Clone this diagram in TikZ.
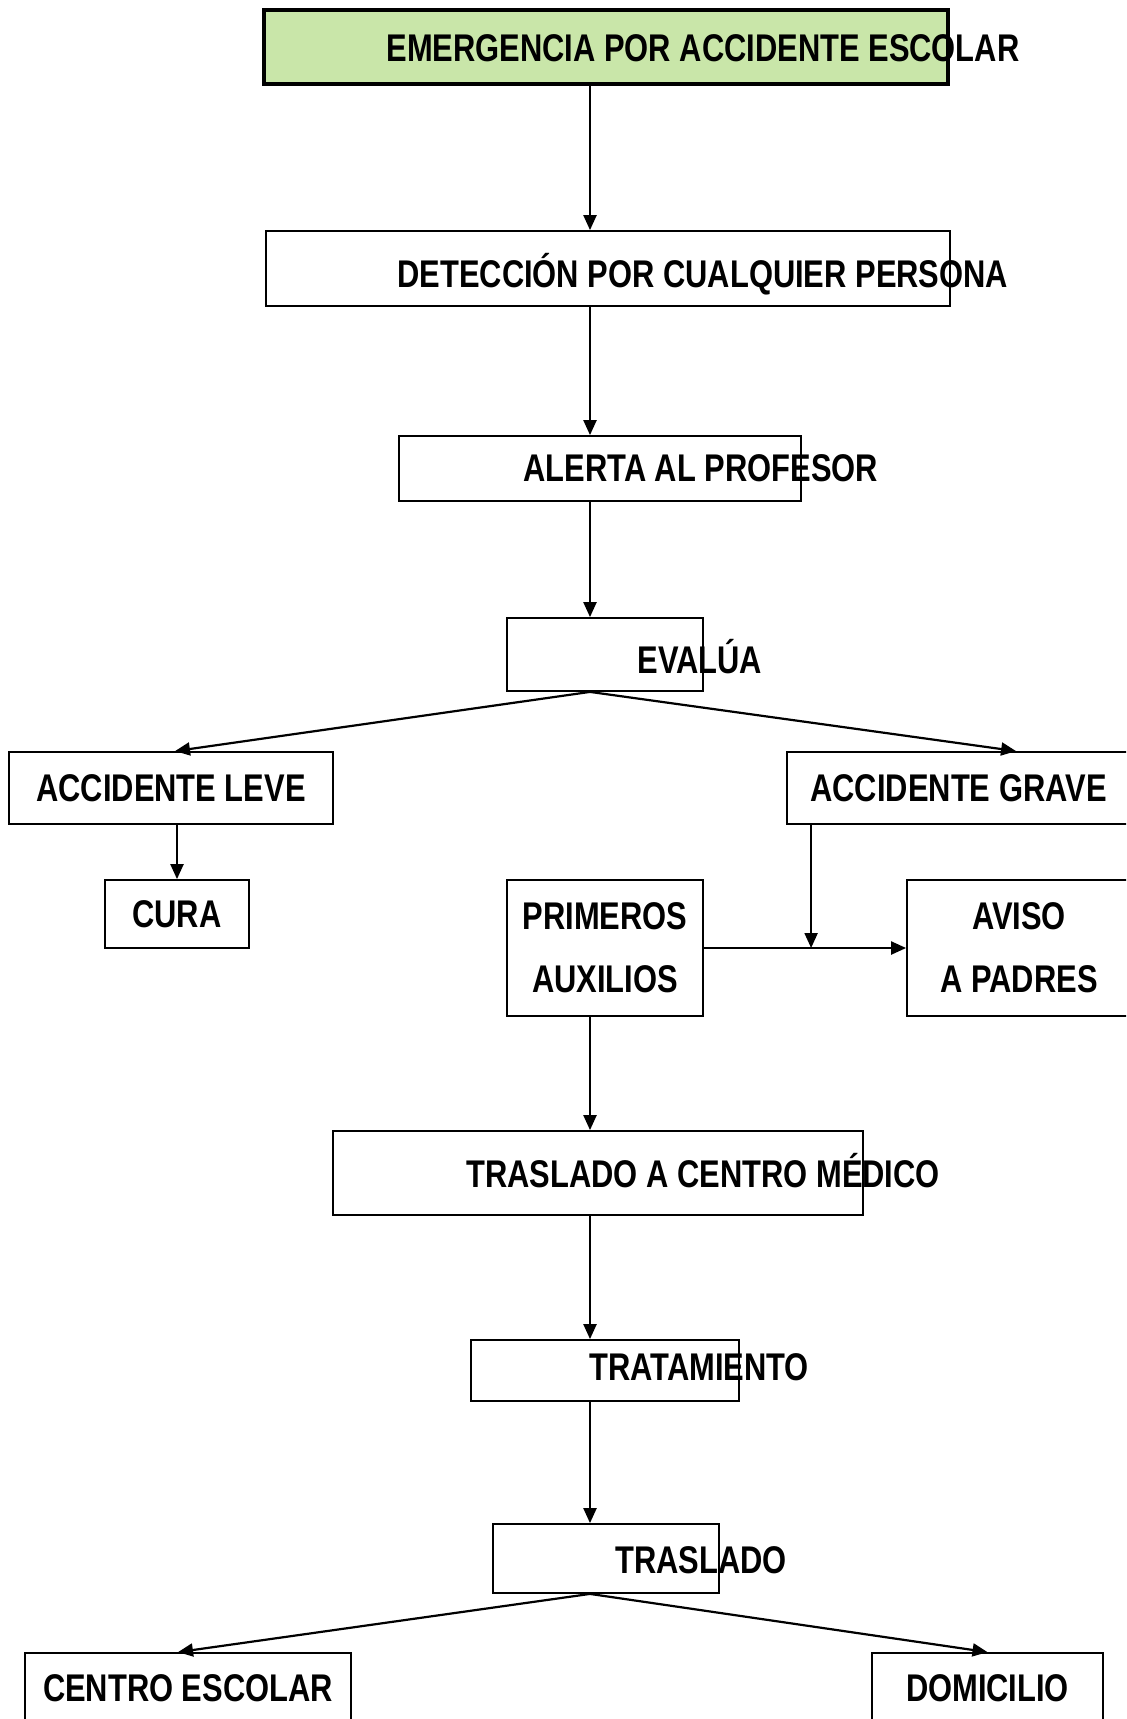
\documentclass[tikz,border=0pt]{standalone}
\usepackage{fontspec}
\setmainfont{Liberation Sans}[FakeStretch=0.8]
\usepackage{xcolor}
\usepackage{tikz}
\usetikzlibrary{positioning, arrows.meta, calc}
\definecolor{emergfill}{HTML}{C9E6A9}

\begin{document}
\begin{tikzpicture}[x=0.5pt, y=-0.5pt,
  box/.style={draw, line width=0.9pt, inner sep=0pt, align=center,
    font=\fontsize{19.3}{31.5}\selectfont\bfseries},
  lbl/.style={anchor=base west, inner sep=0pt,
    font=\fontsize{19.3}{31.5}\selectfont\bfseries},
  arr/.style={-{Triangle[length=7.5pt,width=6.5pt]}, line width=1.1pt}]
  \useasboundingbox (0,0) rectangle (1126,1719);
  \clip (0,0) rectangle (1126,1719);
  \coordinate (spine) at (590,0);

  % main column
  \node[box, fill=emergfill, line width=1.6pt, minimum width=342pt, minimum height=37pt] (emerg) at (606,47) {};
  \node[lbl] (emerg-t) at (386,61.5) {EMERGENCIA POR ACCIDENTE ESCOLAR};
  \node[box, minimum width=342pt, minimum height=37.5pt] (detec) at (608,268.5) {};
  \node[lbl] (detec-t) at (397,287.5) {DETECCIÓN POR CUALQUIER PERSONA};
  \node[box, minimum width=201pt, minimum height=32.5pt] (alerta) at (600,468.5) {};
  \node[lbl] (alerta-t) at (523,481.5) {ALERTA AL PROFESOR};
  \node[box, minimum width=98pt, minimum height=36.5pt] (evalua) at (605,654.5) {};
  \node[lbl] (evalua-t) at (637,673.5) {EVALÚA};

  % branches
  \node[box, minimum width=162pt, minimum height=36pt] (leve) at (171,788) {ACCIDENTE LEVE};
  \node[box, minimum width=171.5pt, minimum height=36pt] (grave) at (958.5,788) {ACCIDENTE GRAVE};
  \node[box, minimum width=72pt, minimum height=34pt] (cura) at (177,914) {CURA};
  \node[box, minimum width=98pt, minimum height=68pt] (primeros) at (605,948) {PRIMEROS\\AUXILIOS};
  \node[box, minimum width=112pt, minimum height=68pt] (aviso) at (1019,948) {AVISO\\A PADRES};

  \node[box, minimum width=265pt, minimum height=42pt] (medico) at (598,1173) {};
  \node[lbl] (medico-t) at (466,1187.5) {TRASLADO A CENTRO MÉDICO};
  \node[box, minimum width=134pt, minimum height=30.5pt] (tratam) at (605,1370.5) {};
  \node[lbl] (tratam-t) at (589,1380.5) {TRATAMIENTO};
  \node[box, minimum width=113pt, minimum height=34.5pt] (traslado) at (606,1558.5) {};
  \node[lbl] (traslado-t) at (615,1573.5) {TRASLADO};

  \node[box, minimum width=163pt, minimum height=35pt] (centro) at (188,1688) {CENTRO ESCOLAR};
  \node[box, minimum width=115.5pt, minimum height=35pt] (domic) at (987.5,1688) {DOMICILIO};

  % connectors
  \draw[arr] (emerg.south -| spine) -- (detec.north -| spine);
  \draw[arr] (detec.south -| spine) -- (alerta.north -| spine);
  \draw[arr] (alerta.south -| spine) -- (evalua.north -| spine);
  \draw[arr] (evalua.south -| spine) -- ($(leve.north)+(4,0)$);
  \draw[arr] (evalua.south -| spine) -- ($(grave.north west)+(230,0)$);
  \draw[arr] (leve.south -| cura.north) -- (cura.north);
  \coordinate (gravedrop) at ($(grave.south west)+(25,0)$);
  \draw[arr] (gravedrop) -- (gravedrop |- primeros.east);
  \draw[arr] (primeros.east) -- (aviso.west);
  \draw[arr] (primeros.south -| spine) -- (medico.north -| spine);
  \draw[arr] (medico.south -| spine) -- (tratam.north -| spine);
  \draw[arr] (tratam.south -| spine) -- (traslado.north -| spine);
  \draw[arr] (traslado.south -| spine) -- ($(centro.north)+(-10,0)$);
  \draw[arr] (traslado.south -| spine) -- (domic.north);
\end{tikzpicture}
\end{document}
